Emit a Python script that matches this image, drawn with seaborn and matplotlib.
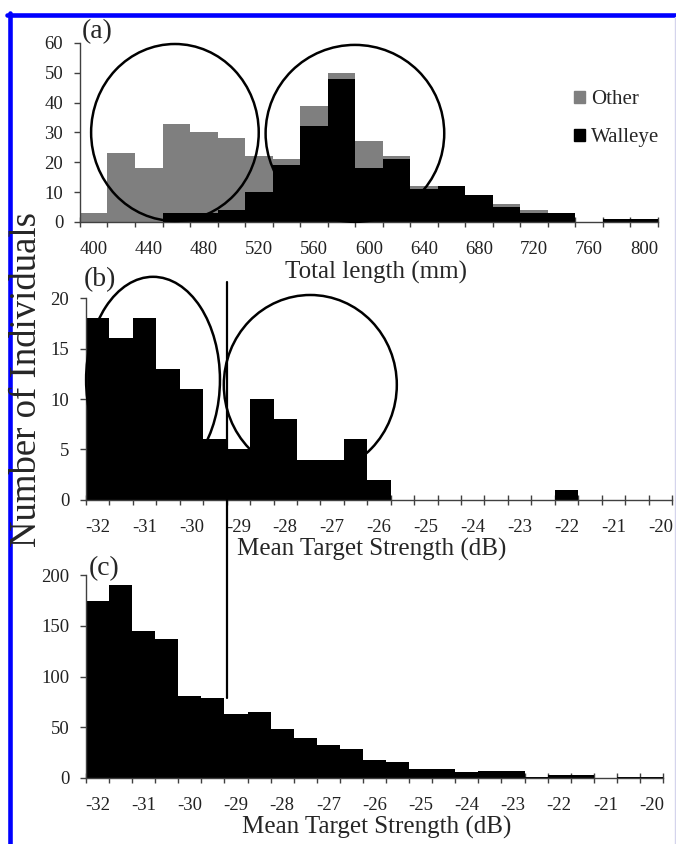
import numpy as np
import matplotlib
matplotlib.use("Agg")
import matplotlib.pyplot as plt
from matplotlib.patches import Ellipse, Patch
from matplotlib.lines import Line2D
import seaborn as sns

# (a) total length histogram, stacked
length_mm = [400, 420, 440, 460, 480, 500, 520, 540, 560, 580, 600,
             620, 640, 660, 680, 700, 720, 740, 760, 780, 800]
walleye = [0, 0, 0, 3, 3, 4, 10, 19, 32, 48, 18, 21, 11, 12, 9, 5, 3, 3, 0, 1, 1]
other = [3, 23, 18, 30, 27, 24, 12, 2, 7, 2, 9, 1, 1, 0, 0, 1, 1, 0, 0, 0, 0]
length_ticks = ["400", "440", "480", "520", "560", "600", "640", "680", "720", "760", "800"]

# (b) and (c) mean target strength histograms
ts_db = [-32, -31.5, -31, -30.5, -30, -29.5, -29, -28.5, -28, -27.5, -27, -26.5, -26,
         -25.5, -25, -24.5, -24, -23.5, -23, -22.5, -22, -21.5, -21, -20.5, -20]
ts_fish = [18, 16, 18, 13, 11, 6, 5, 10, 8, 4, 4, 6, 2, 0, 0, 0, 0, 0, 0, 0, 1, 0, 0, 0, 0]
ts_all = [174, 190, 145, 137, 81, 79, 63, 65, 48, 39, 33, 29, 18, 16, 9, 9, 6, 7, 7,
          1, 3, 3, 0, 1, 1]
ts_ticks = ["-32", "-31", "-30", "-29", "-28", "-27", "-26", "-25", "-24", "-23", "-22", "-21", "-20"]

sns.set_style("white")
plt.rcParams["font.family"] = ["Liberation Serif", "DejaVu Serif"]

GRAY = "#7f7f7f"
AXC = "#404040"

fig = plt.figure(figsize=(6.76, 8.44), dpi=100)
ax_a = fig.add_axes([0.1183, 0.7370, 0.855, 0.2121])
ax_b = fig.add_axes([0.1272, 0.4076, 0.8669, 0.2393])
ax_c = fig.add_axes([0.1272, 0.0782, 0.8536, 0.2405])

length_lab = [str(v) for v in length_mm]
total = [w + o for w, o in zip(walleye, other)]
sns.barplot(x=length_lab, y=total, color=GRAY, saturation=1, width=1,
            errorbar=None, linewidth=0, ax=ax_a)
sns.barplot(x=length_lab, y=walleye, color="black", saturation=1, width=1,
            errorbar=None, linewidth=0, ax=ax_a)

ts_lab = [str(v) for v in ts_db]
sns.barplot(x=ts_lab, y=ts_fish, color="black", saturation=1, width=1,
            errorbar=None, linewidth=0, ax=ax_b)
sns.barplot(x=ts_lab, y=ts_all, color="black", saturation=1, width=1,
            errorbar=None, linewidth=0, ax=ax_c)


def style_axis(ax, n, labels, ymax, ystep):
    ax.set_xlim(-0.5, n - 0.5)
    ax.set_ylim(0, ymax)
    ax.set_xticks(np.arange(n + 1) - 0.5)
    ax.set_xticklabels([])
    ax.set_xticks(np.arange(0, n, 2), minor=True)
    ax.set_xticklabels(labels, minor=True)
    ax.tick_params(axis="x", which="major", bottom=True, direction="inout",
                   length=7, width=1, color=AXC)
    ax.tick_params(axis="x", which="minor", bottom=True, length=0, pad=14,
                   labelsize=13.5, labelcolor="#222222")
    ax.set_yticks(np.arange(0, ymax + 1, ystep))
    ax.tick_params(axis="y", left=True, direction="out", length=4, width=1,
                   color=AXC, pad=8, labelsize=13.5, labelcolor="#222222")
    ax.set_xlabel("")
    ax.set_ylabel("")
    sns.despine(ax=ax)
    for s in ("left", "bottom"):
        ax.spines[s].set_color(AXC)
        ax.spines[s].set_linewidth(1)


style_axis(ax_a, len(length_mm), length_ticks, 60, 10)
style_axis(ax_b, len(ts_db), ts_ticks, 20, 5)
style_axis(ax_c, len(ts_db), ts_ticks, 200, 50)

ax_a.set_xlabel("Total length (mm)", fontsize=18)
ax_a.xaxis.set_label_coords(0.512, -0.215)
ax_b.set_xlabel("Mean Target Strength (dB)", fontsize=18)
ax_b.xaxis.set_label_coords(0.488, -0.19)
ax_c.set_xlabel("Mean Target Strength (dB)", fontsize=18)
ax_c.xaxis.set_label_coords(0.503, -0.185)

fig.text(0.039, 0.550, "Number of Individuals", rotation=90,
         ha="center", va="center", fontsize=26.5)

ax_a.text(0.029, 1.061, "(a)", transform=ax_a.transAxes, ha="center", va="center", fontsize=20)
ax_b.text(0.024, 1.089, "(b)", transform=ax_b.transAxes, ha="center", va="center", fontsize=20)
ax_c.text(0.031, 1.034, "(c)", transform=ax_c.transAxes, ha="center", va="center", fontsize=20)

# highlight ellipses
for ax, (cx, cy, w, h) in [(ax_a, (2.95, 30.0, 6.09, 59.3)),
                           (ax_a, (9.49, 29.7, 6.49, 59.3)),
                           (ax_b, (2.36, 11.9, 5.71, 20.4)),
                           (ax_b, (9.07, 11.4, 7.38, 17.8))]:
    ax.add_patch(Ellipse((cx, cy), w, h, fill=False, ec="black", lw=1.8,
                         clip_on=False, zorder=5))

ax_a.legend(handles=[Patch(color=GRAY, label="Other"),
                     Patch(color="black", label="Walleye")],
            loc="upper left", bbox_to_anchor=(0.855, 0.735), frameon=False,
            fontsize=15, handlelength=0.5, handleheight=0.5, handletextpad=0.3,
            labelspacing=0.9, borderaxespad=0, borderpad=0)

# vertical threshold line spanning panels (b) and (c)
inv = fig.transFigure.inverted()
x0, y0 = inv.transform(ax_b.transData.transform((5.5, 21.6)))
_, y1 = inv.transform(ax_c.transData.transform((5.5, 79)))
fig.add_artist(Line2D([x0, x0], [y1, y0], color="black", lw=1.6, zorder=6))

# blue frame
fig.add_artist(Line2D([7 / 676, 1], [1 - 15 / 844, 1 - 15 / 844], color="#0000ff", lw=3.3))
fig.add_artist(Line2D([9.5 / 676, 9.5 / 676], [0, 1 - 13 / 844], color="#0000ff", lw=3.3))
fig.add_artist(Line2D([675 / 676, 675 / 676], [0, 1 - 17 / 844], color="#d4d4ec", lw=1))

fig.savefig("out.png", dpi=100)
